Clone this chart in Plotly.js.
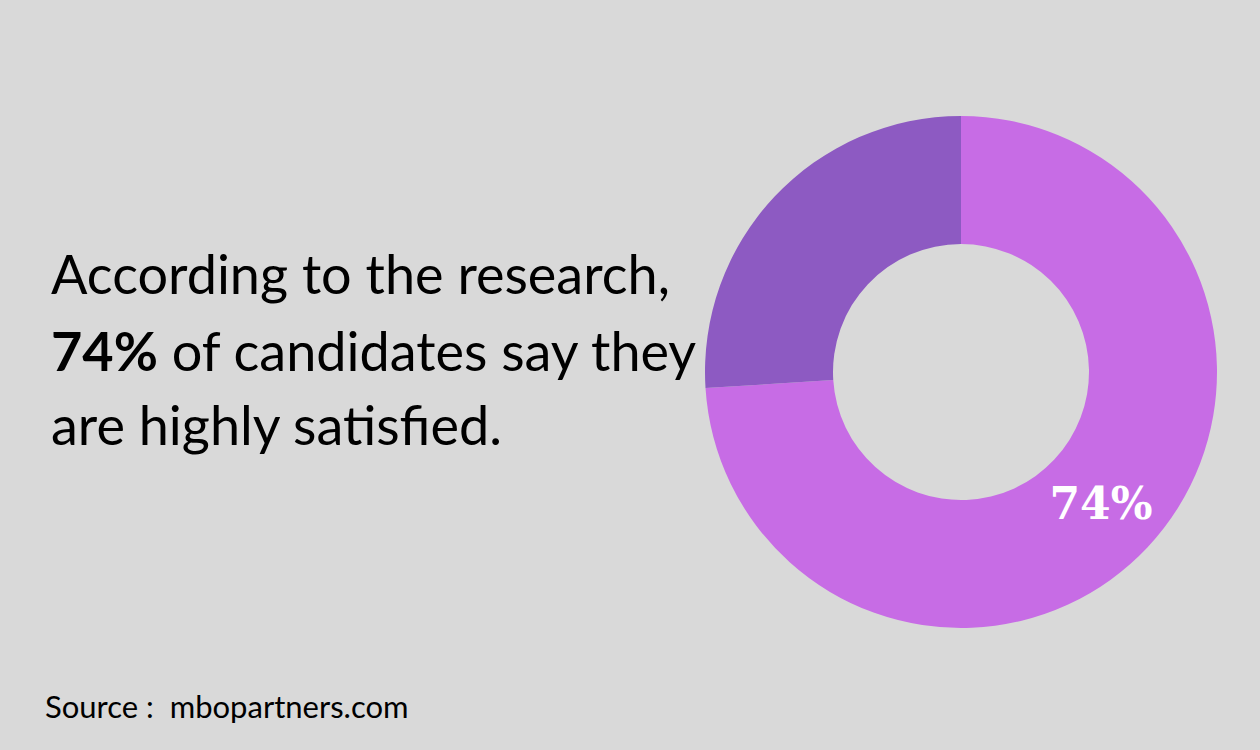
<!DOCTYPE html>
<html>
<head>
<meta charset="utf-8">
<script src="https://cdn.plot.ly/plotly-3.0.1.min.js"></script>
<style>html,body{margin:0;padding:0;background:#D9D9D9;}#chart{width:1260px;height:750px;}</style>
</head>
<body>
<div id="chart"></div>
<script>
const labels = ["Highly satisfied", "Other"];
const values = [74, 26];
const sliceText = ["74%", ""];
const sliceColors = ["#C76CE5", "#8D5AC2"];
const textLines = [
  "According to the research,",
  "<b>74%</b> of candidates say they",
  "are highly satisfied."
];
const sourceText = "Source :  mbopartners.com";

const trace = {
  type: "pie",
  labels: labels,
  values: values,
  text: sliceText,
  textinfo: "text",
  textposition: "inside",
  insidetextorientation: "horizontal",
  hole: 0.5,
  sort: false,
  direction: "clockwise",
  rotation: 0,
  marker: {colors: sliceColors, line: {width: 0}},
  textfont: {family: "DejaVu Serif", size: 44, color: "#FFFFFF", weight: "bold"},
  domain: {x: [705/1260, 1217/1260], y: [122/750, 634/750]},
  hoverinfo: "label+percent"
};

const lineY = [274, 350, 424];
const annotations = textLines.map((t, i) => ({
  text: t, xref: "paper", yref: "paper",
  x: 49/1260, y: 1 - lineY[i]/750, xanchor: "left", yanchor: "middle",
  showarrow: false, font: {family: "Lato", size: 54, color: "#000000"}
}));
annotations.push({
  text: sourceText, xref: "paper", yref: "paper",
  x: 43/1260, y: 1 - 706/750, xanchor: "left", yanchor: "middle",
  showarrow: false, font: {family: "Lato", size: 31, color: "#000000"}
});

const layout = {
  width: 1260, height: 750,
  margin: {l: 0, r: 0, t: 0, b: 0},
  paper_bgcolor: "#D9D9D9",
  plot_bgcolor: "#D9D9D9",
  showlegend: false,
  annotations: annotations
};
Plotly.newPlot("chart", [trace], layout, {displayModeBar: false});
</script>
</body>
</html>
